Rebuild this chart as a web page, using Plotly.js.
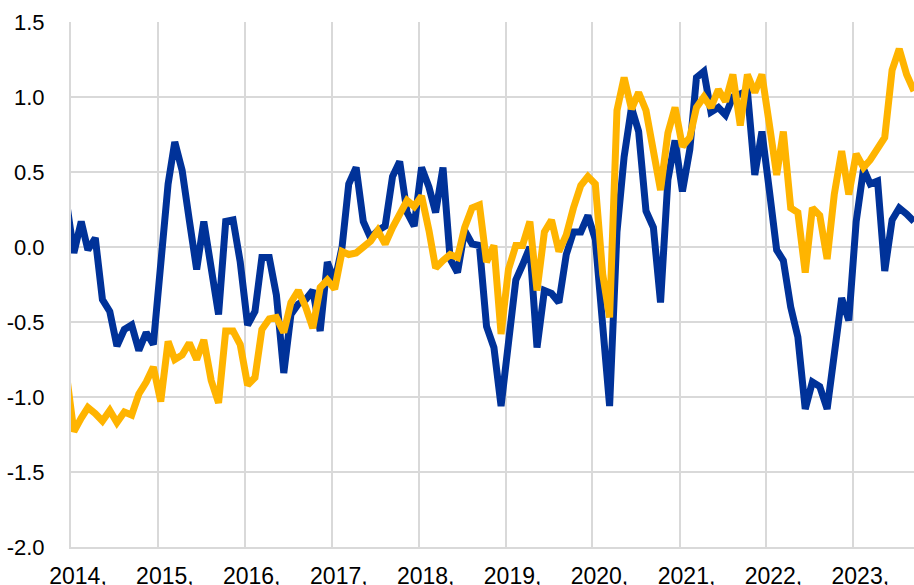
<!DOCTYPE html>
<html>
<head>
<meta charset="utf-8">
<script src="https://cdn.plot.ly/plotly-3.0.1.min.js"></script>
<style>
  html, body { margin: 0; padding: 0; background: #ffffff; }
  #chart { width: 914px; height: 585px; }
</style>
</head>
<body>
<div id="chart"></div>
<script>
// Monthly observations, first value = December 2013, last = September 2023
const firstYear = 2013;
const firstMonth = 12;

const blueSeries = [
  0.30,
  -0.04, 0.17, -0.02, 0.06, -0.35, -0.43, -0.66, -0.55, -0.52, -0.69, -0.57, -0.65,
  -0.15, 0.42, 0.70, 0.51, 0.18, -0.15, 0.17, -0.13, -0.45, 0.17, 0.18, -0.10,
  -0.52, -0.43, -0.07, -0.07, -0.32, -0.84, -0.45, -0.38, -0.35, -0.29, -0.56, -0.10,
  -0.23, 0.00, 0.42, 0.53, 0.17, 0.06, 0.11, 0.14, 0.47, 0.57, 0.23, 0.14,
  0.53, 0.40, 0.23, 0.53, -0.08, -0.17, 0.11, 0.02, 0.01, -0.53, -0.67, -1.06,
  -0.60, -0.22, -0.12, 0.00, -0.67, -0.29, -0.31, -0.37, -0.05, 0.10, 0.10, 0.21,
  0.05, -0.52, -1.06, 0.10, 0.60, 0.93, 0.77, 0.24, 0.13, -0.37, 0.45, 0.71,
  0.37, 0.65, 1.13, 1.17, 0.90, 0.93, 0.88, 1.00, 1.02, 1.04, 0.48, 0.77,
  0.38, -0.02, -0.09, -0.40, -0.60, -1.08, -0.90, -0.93, -1.08, -0.69, -0.34, -0.49,
  0.17, 0.52, 0.42, 0.44, -0.16, 0.18, 0.26, 0.22, 0.17
];

const yellowSeries = [
  -0.85,
  -1.23, -1.14, -1.07, -1.11, -1.16, -1.09, -1.17, -1.10, -1.12, -0.98, -0.90, -0.80,
  -1.03, -0.63, -0.75, -0.72, -0.64, -0.75, -0.62, -0.89, -1.04, -0.56, -0.56, -0.65,
  -0.92, -0.87, -0.55, -0.48, -0.47, -0.57, -0.37, -0.29, -0.40, -0.54, -0.27, -0.22,
  -0.28, -0.03, -0.05, -0.04, 0.00, 0.04, 0.11, 0.02, 0.13, 0.22, 0.31, 0.27,
  0.34, 0.11, -0.14, -0.09, -0.05, -0.07, 0.13, 0.26, 0.28, -0.10, 0.01, -0.58,
  -0.15, 0.01, 0.01, 0.17, -0.29, 0.10, 0.18, -0.03, 0.08, 0.26, 0.41, 0.47,
  0.42, -0.18, -0.47, 0.91, 1.13, 0.92, 1.03, 0.91, 0.64, 0.38, 0.76, 0.93,
  0.67, 0.73, 0.93, 1.00, 0.93, 1.05, 0.97, 1.15, 0.81, 1.15, 1.03, 1.15,
  0.82, 0.48, 0.77, 0.26, 0.23, -0.17, 0.26, 0.21, -0.08, 0.35, 0.64, 0.35,
  0.62, 0.53, 0.58, 0.65, 0.73, 1.18, 1.32, 1.15, 1.04
];

const tickYears = ["2014", "2015", "2016", "2017", "2018", "2019", "2020", "2021", "2022", "2023"];
const tickLabels = ["2014,", "2015,", "2016,", "2017,", "2018,", "2019,", "2020,", "2021,", "2022,", "2023,"];
const yTickVals = [-2.0, -1.5, -1.0, -0.5, 0.0, 0.5, 1.0, 1.5];
const yTickText = ["-2.0", "-1.5", "-1.0", "-0.5", "0.0", "0.5", "1.0", "1.5"];

// month dates (plotted mid-month)
const dates = [];
for (let i = 0; i < blueSeries.length; i++) {
  const total = (firstYear * 12 + (firstMonth - 1)) + i;
  const y = Math.floor(total / 12);
  const m = (total % 12) + 1;
  dates.push(y + "-" + String(m).padStart(2, "0") + "-13");
}

const BLUE = "#003299";
const YELLOW = "#FFB400";
const GRID = "#d9d9d9";
const FONT = "Arial, 'Liberation Sans', sans-serif";

const traces = [
  {
    x: dates, y: blueSeries, type: "scatter", mode: "lines",
    line: { color: BLUE, width: 7 }, hoverinfo: "skip", showlegend: false
  },
  {
    x: dates, y: yellowSeries, type: "scatter", mode: "lines",
    line: { color: YELLOW, width: 7 }, hoverinfo: "skip", showlegend: false
  }
];

const layout = {
  width: 914, height: 585,
  margin: { l: 71, r: 0, t: 22, b: 38, pad: 0 },
  paper_bgcolor: "#ffffff", plot_bgcolor: "#ffffff",
  showlegend: false,
  font: { family: FONT, size: 22, color: "#000000" },
  xaxis: {
    type: "date",
    range: ["2014-01-01", "2023-09-13"],
    tickmode: "array",
    tickvals: tickYears.map(y => y + "-01-01"),
    ticktext: tickLabels,
    showgrid: true, gridcolor: GRID, gridwidth: 2,
    showline: true, linecolor: GRID, linewidth: 2,
    zeroline: false, ticks: "",
    tickfont: { family: FONT, size: 23, color: "#000000" },
    ticklabelstandoff: 7,
    ticklabelshift: 7,
    fixedrange: true
  },
  yaxis: {
    range: [-2.0, 1.5],
    tickmode: "array",
    tickvals: yTickVals,
    ticktext: yTickText,
    showgrid: true, gridcolor: GRID, gridwidth: 2,
    showline: true, linecolor: GRID, linewidth: 2,
    zeroline: false, ticks: "",
    tickfont: { family: FONT, size: 22, color: "#000000" },
    ticklabelstandoff: 20,
    fixedrange: true
  }
};

Plotly.newPlot("chart", traces, layout, { staticPlot: true, displayModeBar: false });
</script>
</body>
</html>
